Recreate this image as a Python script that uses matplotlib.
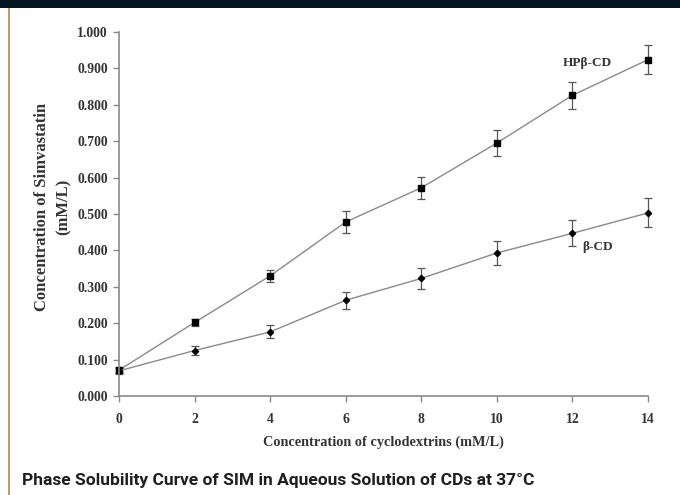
import matplotlib
matplotlib.use("Agg")
import matplotlib.pyplot as plt
from matplotlib.patches import Rectangle

conc = [0, 2, 4, 6, 8, 10, 12, 14]
hp_beta_cd = [0.071, 0.202, 0.330, 0.478, 0.572, 0.695, 0.826, 0.924]
hp_err = [0.008, 0.010, 0.017, 0.029, 0.030, 0.035, 0.037, 0.040]
beta_cd = [0.069, 0.125, 0.176, 0.263, 0.323, 0.393, 0.447, 0.503]
beta_err = [0.008, 0.013, 0.018, 0.024, 0.030, 0.033, 0.036, 0.040]
yticks = [0.0, 0.1, 0.2, 0.3, 0.4, 0.5, 0.6, 0.7, 0.8, 0.9, 1.0]
xticks = [0, 2, 4, 6, 8, 10, 12, 14]

serif = ['Liberation Serif', 'DejaVu Serif']
fig = plt.figure(figsize=(6.8, 4.95), dpi=100)
fig.patch.set_facecolor('white')

# frame decorations
fig.patches.append(Rectangle((0, 1 - 8 / 495), 1, 8 / 495, transform=fig.transFigure,
                             facecolor='#021521', edgecolor='none'))
fig.patches.append(Rectangle((7.5 / 680, 0), 2.5 / 680, 1 - 8 / 495, transform=fig.transFigure,
                             facecolor='#c49a62', edgecolor='none'))

ax = fig.add_axes([119 / 680, 1 - 396 / 495, (648 - 119) / 680, (396 - 32) / 495])
line_col = '#8a8a8a'
ax.errorbar(conc, hp_beta_cd, yerr=hp_err, color=line_col, lw=1.0, marker='s', ms=4.2,
            mfc='black', mec='black', ecolor='#555555', elinewidth=0.9, capsize=3, capthick=0.9)
ax.errorbar(conc, beta_cd, yerr=beta_err, color=line_col, lw=1.0, marker='D', ms=3.2,
            mfc='black', mec='black', ecolor='#555555', elinewidth=0.9, capsize=3, capthick=0.9)

ax.set_xlim(0, 14)
ax.set_ylim(0, 1.0)
ax.set_xticks(xticks)
ax.set_yticks(yticks)
ax.set_yticklabels([f"{v:.3f}" for v in yticks])
for s in ['top', 'right']:
    ax.spines[s].set_visible(False)
for s in ['left', 'bottom']:
    ax.spines[s].set_color('#8a8a8a')
    ax.spines[s].set_linewidth(1.2)
ax.tick_params(axis='both', colors='#8a8a8a', labelcolor='#333333', length=4, width=1)
ax.tick_params(axis='x', pad=8)
ax.tick_params(axis='y', pad=4)
for lab in ax.get_xticklabels() + ax.get_yticklabels():
    lab.set_fontfamily(serif)
    lab.set_fontweight('bold')
    lab.set_fontsize(9.8)
for c in ax.get_children():
    try:
        c.set_clip_on(False)
    except Exception:
        pass

ax.set_xlabel('Concentration of cyclodextrins (mM/L)', family=serif, fontweight='bold',
              fontsize=10.3, color='#333333', labelpad=7)
ax.set_ylabel('Concentration of Simvastatin\n(mM/L)', family=serif, fontweight='bold',
              fontsize=12, color='#333333', labelpad=4, linespacing=1.5)
ax.yaxis.label.set_y(0.52)

ax.text(12.4, 0.915, 'HPβ-CD', family=serif, fontweight='bold', fontsize=9.5, color='#333333',
        ha='center', va='center')
ax.text(12.25, 0.41, 'β-CD', family=serif, fontweight='bold', fontsize=9.5, color='#333333',
        ha='left', va='center')

fig.text(22 / 680, 1 - 485 / 495, 'Phase Solubility Curve of SIM in Aqueous Solution of CDs at 37°C',
         family=['Roboto', 'DejaVu Sans'], fontweight='bold', fontsize=12.5,
         color='#1e1e1e', ha='left', va='baseline')

fig.savefig('out.png', dpi=100, facecolor='white')
